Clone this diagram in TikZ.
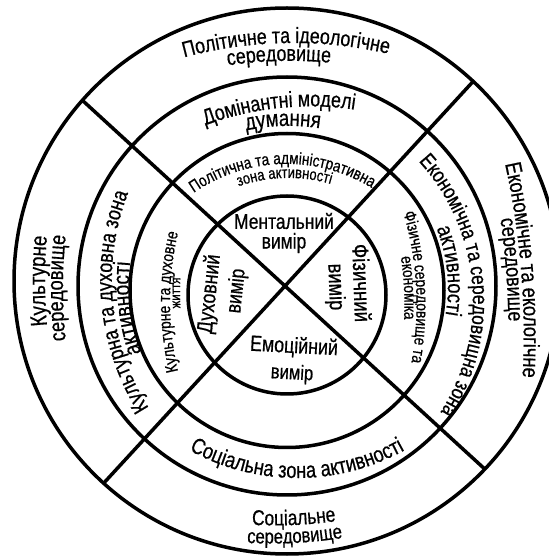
\documentclass[tikz,border=0pt]{standalone}
\usepackage{fontspec}
\setmainfont[FakeStretch=0.81,FakeBold=0.6]{Liberation Sans}
\usetikzlibrary{decorations.text}
% arc label: #1 = 1 (clockwise, tops outward) or -1 (counter-clockwise, upright at bottom)
% #2,#3 = middle of the baseline, #4 = angle from the arc centre to that point,
% #5 = radius of the baseline arc, #6 = font size, #7 = text
\newcommand\arclab[7]{%
  \def\curfont{\fontsize{#6}{#6}\selectfont}%
  \pgfmathsetmacro\halfspan{min(85,12000/#5)}%
  \pgfmathsetmacro\angS{#4+#1*\halfspan}%
  \pgfmathsetmacro\angE{#4-#1*\halfspan}%
  \path (#2,#3) ++({#4+180}:#5) ++(\angS:#5) coordinate (arcstart);
  \path[decorate,decoration={text along path,text align=center,
    text={|\curfont|#7}}]
    (arcstart) arc[start angle=\angS, end angle=\angE, radius=#5];}
\begin{document}
\begin{tikzpicture}[x=1pt,y=1pt,
  ring/.style={line width=3.5pt},
  inner/.style={inner sep=0pt,font=\fontsize{21.5}{21.5}\selectfont}]
\useasboundingbox (0,0) rectangle (549,558);
\fill[white] (0,0) rectangle (549,558);
\coordinate (O1) at (287,277);
\coordinate (O2) at (287,272);
\coordinate (O3) at (287,267.5);
\coordinate (O4) at (287,263);
\coordinate (X) at (285,272);
% circles
\draw[ring] (O1) circle[radius=273];
\draw[ring] (O2) circle[radius=209];
\draw[ring] (O3) circle[radius=157];
\draw[ring] (O4) circle[radius=99];
% diagonals, clipped at the outer circle
\path (X) ++(137.5:300) coordinate (UL);
\path (X) ++(-42.5:300) coordinate (LR);
\path (X) ++(47.4:300) coordinate (UR);
\path (X) ++(227.4:300) coordinate (LL);
\begin{scope}
  \clip (O1) circle[radius=273];
  \draw[ring] (UL) -- (LR);
  \draw[ring] (UR) -- (LL);
\end{scope}
% outer ring
\arclab{1}{286}{515}{91}{420}{22}{Політичне та ідеологічне}
\arclab{1}{279}{497}{91.5}{420}{22}{середовище}
\arclab{1}{45}{277}{180}{500}{23}{Культурне}
\arclab{1}{63}{270}{180}{500}{22.5}{середовище}
\arclab{1}{521}{288}{4.7}{800}{22.5}{Економічне та екологічне}
\arclab{1}{506}{288}{4.5}{800}{22}{середовище}
\arclab{-1}{294}{33}{272.5}{450}{21.5}{Соціальне}
\arclab{-1}{295}{15}{273}{450}{20.5}{середовище}
% second ring
\arclab{1}{279}{450}{96}{300}{22}{Домінантні моделі}
\arclab{1}{283}{432}{91.6}{200}{23}{думання}
\arclab{1}{113}{255}{185.5}{240}{22}{Культурна та духовна зона}
\arclab{1}{131}{250}{187}{225}{23.5}{активності}
\arclab{1}{472}{275}{5}{207}{21.4}{Економічна та середовищна зона}
\arclab{1}{447}{287}{6}{160}{22.5}{активності}
\arclab{-1}{297}{80}{270}{223}{22.5}{Соціальна зона активності}
% third ring
\arclab{1}{282}{394}{91.6}{163}{16.8}{Політична та адміністративна}
\arclab{1}{284.5}{380}{91.5}{150}{16}{зона активності}
\arclab{1}{170}{256}{180}{300}{17}{Культурне та духовне}
\arclab{1}{180}{265}{180}{290}{14}{життя}
\arclab{1}{416}{271}{3.1}{330}{17}{Фізичне середовище та}
\arclab{1}{404}{270}{3}{320}{17}{економіка}
% inner circle
\node[inner] (m1) at (284,337) {Ментальний};
\node[inner] (m2) at (284,315) {вимір};
\node[inner,rotate=-3,font=\fontsize{22}{22}\selectfont] (e1) at (294,211) {Емоційний};
\node[inner,rotate=-3,font=\fontsize{20.5}{20.5}\selectfont] (e2) at (292,184) {вимір};
\node[inner,rotate=84,font=\fontsize{22}{22}\selectfont] (d1) at (210,264) {Духовний};
\node[inner,rotate=84] (d2) at (237,267) {вимір};
\node[inner,rotate=-88,font=\fontsize{23}{23}\selectfont] (f1) at (362,275) {Фізичний};
\node[inner,rotate=-88,font=\fontsize{22.5}{22.5}\selectfont] (f2) at (335,271) {вимір};
\end{tikzpicture}
\end{document}
